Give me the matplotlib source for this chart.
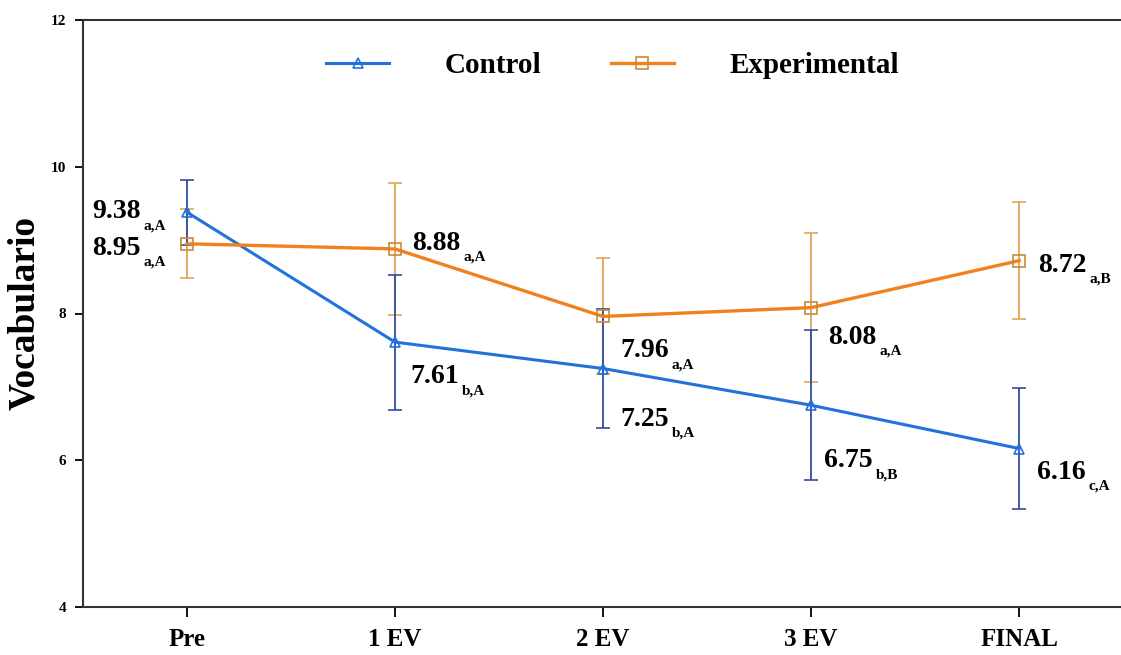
import matplotlib
matplotlib.use("Agg")
import matplotlib.pyplot as plt

categories = ["Pre", "1 EV", "2 EV", "3 EV", "FINAL"]
control_mean = [9.38, 7.61, 7.25, 6.75, 6.16]
control_sd = [0.44, 0.92, 0.81, 1.02, 0.82]
experimental_mean = [8.95, 8.88, 7.96, 8.08, 8.72]
experimental_sd = [0.47, 0.90, 0.79, 1.02, 0.80]
control_letters = ["a,A", "b,A", "b,A", "b,B", "c,A"]
experimental_letters = ["a,A", "a,A", "a,A", "a,A", "a,B"]
yticks = [4, 6, 8, 10, 12]

# layout of value labels (pixel offsets of number baseline from the point)
control_offsets = [(-95, -6), (15, -41), (17, -57), (13, -62), (18, -30)]
experimental_offsets = [(-95, -11), (17, -1), (17, -41), (17, -36), (19, -11)]

plt.rcParams["font.family"] = ["Liberation Serif", "DejaVu Serif"]
plt.rcParams["font.weight"] = "bold"

fig = plt.figure(figsize=(11.21, 6.55), dpi=100)
ax = fig.add_axes([83 / 1121, 1 - 607 / 655, 1 - 83 / 1121, (607 - 20) / 655])

x = list(range(len(categories)))
blue = "#2271dd"
blue_err = "#2f4d9e"
orange = "#f0821e"
orange_err = "#e0a555"

ax.errorbar(x, experimental_mean, yerr=experimental_sd, fmt="none", ecolor=orange_err,
            elinewidth=1.3, capsize=5, capthick=1.2, zorder=2)
ax.errorbar(x, control_mean, yerr=control_sd, fmt="none", ecolor=blue_err,
            elinewidth=1.3, capsize=5, capthick=1.2, zorder=3)
ax.plot(x, control_mean, color=blue, lw=2.2, marker="^", ms=7, mfc="none",
        mec=blue, mew=1.2, label="Control", zorder=4)
ax.plot(x, experimental_mean, color=orange, lw=2.4, marker="s", ms=9, mfc="none",
        mec="#c98a3a", mew=1.2, label="Experimental", zorder=4)


def value_label(xi, m, lab, dx, dy):
    num = ax.annotate("%.2f" % m, (xi, m), xytext=(dx, dy), textcoords="offset pixels",
                      ha="left", va="baseline", fontsize=20, fontweight="bold", zorder=5)
    ax.annotate(lab, xy=(1, 0), xycoords=num, xytext=(3, -5), textcoords="offset pixels",
                ha="left", va="baseline", fontsize=11, fontweight="bold", zorder=5)


for xi, m, lab, (dx, dy) in zip(x, control_mean, control_letters, control_offsets):
    value_label(xi, m, lab, dx, dy)
for xi, m, lab, (dx, dy) in zip(x, experimental_mean, experimental_letters, experimental_offsets):
    value_label(xi, m, lab, dx, dy)

ax.set_xlim(-0.5, 4.49)
ax.set_ylim(4, 12)
ax.set_xticks(x)
ax.set_xticklabels(categories, fontsize=18, fontweight="bold")
ax.set_yticks(yticks)
ax.set_yticklabels([str(v) for v in yticks], fontsize=11, fontweight="bold")
ax.tick_params(axis="x", length=7, width=1.3, pad=8)
ax.tick_params(axis="y", length=6, width=1.3, pad=6)
ax.set_ylabel("Vocabulario", fontsize=27, fontweight="bold")
ax.yaxis.set_label_coords(-0.0395, 0.5)
ax.spines["right"].set_visible(False)
for s in ["left", "bottom", "top"]:
    ax.spines[s].set_linewidth(1.5)
    ax.spines[s].set_color("#333333")

leg = ax.legend(loc="upper center", bbox_to_anchor=(0.51, 0.99), ncol=2, frameon=False,
                handlelength=2.15, columnspacing=2.4, handletextpad=1.9,
                prop={"weight": "bold", "size": 21})

fig.savefig("out.png", dpi=100)
